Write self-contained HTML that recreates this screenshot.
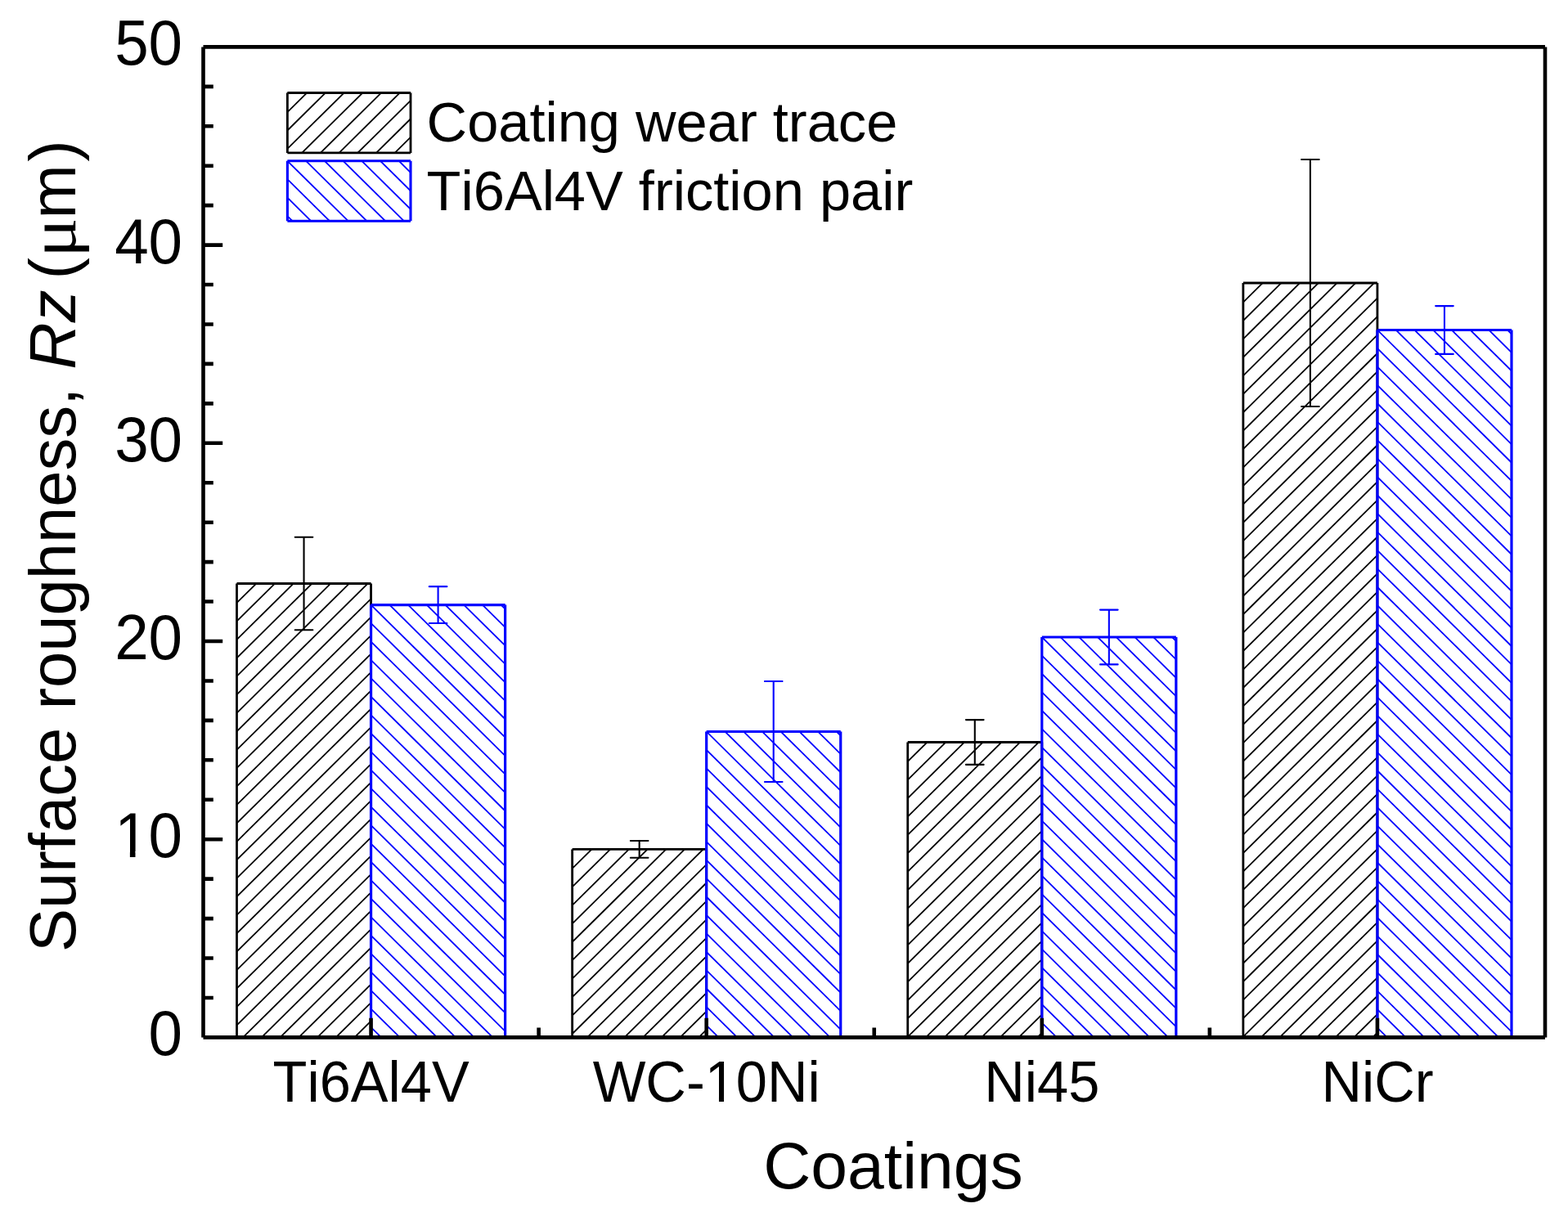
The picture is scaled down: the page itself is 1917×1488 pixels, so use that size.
<!DOCTYPE html><html><head><meta charset="utf-8"><style>html,body{margin:0;padding:0;background:#fff;overflow:hidden;}svg{display:block;font-kerning:none;}</style></head><body><svg width="1917" height="1488" viewBox="0 0 1917 1488">
<defs><clipPath id="c1"><rect x="289.51" y="713.50" width="164.05" height="554.90"/></clipPath><clipPath id="c2"><rect x="453.56" y="739.60" width="164.05" height="528.80"/></clipPath><clipPath id="c3"><rect x="699.64" y="1038.40" width="164.05" height="230.00"/></clipPath><clipPath id="c4"><rect x="863.69" y="894.50" width="164.05" height="373.90"/></clipPath><clipPath id="c5"><rect x="1109.76" y="907.50" width="164.05" height="360.90"/></clipPath><clipPath id="c6"><rect x="1273.81" y="779.00" width="164.05" height="489.40"/></clipPath><clipPath id="c7"><rect x="1519.89" y="346.00" width="164.05" height="922.40"/></clipPath><clipPath id="c8"><rect x="1683.94" y="403.50" width="164.05" height="864.90"/></clipPath><clipPath id="c9"><rect x="351.40" y="113.50" width="150.60" height="73.40"/></clipPath><clipPath id="c10"><rect x="351.40" y="196.80" width="150.60" height="73.40"/></clipPath></defs>
<rect width="100%" height="100%" fill="#fff"/>
<g clip-path="url(#c1)"><path d="M293.65,710.50L-274.00,1271.40M316.37,710.50L-251.28,1271.40M339.09,710.50L-228.56,1271.40M361.81,710.50L-205.84,1271.40M384.53,710.50L-183.12,1271.40M407.25,710.50L-160.40,1271.40M429.97,710.50L-137.68,1271.40M452.69,710.50L-114.96,1271.40M475.41,710.50L-92.24,1271.40M498.13,710.50L-69.52,1271.40M520.85,710.50L-46.80,1271.40M543.57,710.50L-24.08,1271.40M566.29,710.50L-1.36,1271.40M589.01,710.50L21.36,1271.40M611.73,710.50L44.08,1271.40M634.45,710.50L66.80,1271.40M657.17,710.50L89.52,1271.40M679.89,710.50L112.24,1271.40M702.61,710.50L134.96,1271.40M725.33,710.50L157.68,1271.40M748.05,710.50L180.40,1271.40M770.77,710.50L203.12,1271.40M793.49,710.50L225.84,1271.40M816.21,710.50L248.56,1271.40M838.93,710.50L271.28,1271.40M861.65,710.50L294.00,1271.40M884.37,710.50L316.72,1271.40M907.09,710.50L339.44,1271.40M929.81,710.50L362.16,1271.40M952.53,710.50L384.88,1271.40M975.25,710.50L407.60,1271.40M997.97,710.50L430.32,1271.40M1020.69,710.50L453.04,1271.40" stroke="#000" stroke-width="1.8" fill="none"/></g>
<path d="M289.51,713.50V1268.40M289.51,713.50H453.56M453.56,713.50V1268.40M289.51,1268.40H453.56" fill="none" stroke="#000" stroke-width="2.8"/>
<g clip-path="url(#c2)"><path d="M-117.47,736.60L423.76,1271.40M-94.75,736.60L446.48,1271.40M-72.03,736.60L469.20,1271.40M-49.31,736.60L491.92,1271.40M-26.59,736.60L514.64,1271.40M-3.87,736.60L537.36,1271.40M18.85,736.60L560.08,1271.40M41.57,736.60L582.80,1271.40M64.29,736.60L605.52,1271.40M87.01,736.60L628.24,1271.40M109.73,736.60L650.96,1271.40M132.45,736.60L673.68,1271.40M155.17,736.60L696.40,1271.40M177.89,736.60L719.12,1271.40M200.61,736.60L741.84,1271.40M223.33,736.60L764.56,1271.40M246.05,736.60L787.28,1271.40M268.77,736.60L810.00,1271.40M291.49,736.60L832.72,1271.40M314.21,736.60L855.44,1271.40M336.93,736.60L878.16,1271.40M359.65,736.60L900.88,1271.40M382.37,736.60L923.60,1271.40M405.09,736.60L946.32,1271.40M427.81,736.60L969.04,1271.40M450.53,736.60L991.76,1271.40M473.25,736.60L1014.48,1271.40M495.97,736.60L1037.20,1271.40M518.69,736.60L1059.92,1271.40M541.41,736.60L1082.64,1271.40M564.13,736.60L1105.36,1271.40M586.85,736.60L1128.08,1271.40M609.57,736.60L1150.80,1271.40M632.29,736.60L1173.52,1271.40" stroke="#00f" stroke-width="1.8" fill="none"/></g>
<path d="M453.56,739.60V1268.40M453.56,739.60H617.61M617.61,739.60V1268.40M453.56,1268.40H617.61" fill="none" stroke="#00f" stroke-width="3.2"/>
<g clip-path="url(#c3)"><path d="M703.77,1035.40L464.94,1271.40M726.49,1035.40L487.66,1271.40M749.21,1035.40L510.38,1271.40M771.93,1035.40L533.10,1271.40M794.65,1035.40L555.82,1271.40M817.37,1035.40L578.54,1271.40M840.09,1035.40L601.26,1271.40M862.81,1035.40L623.98,1271.40M885.53,1035.40L646.70,1271.40M908.25,1035.40L669.42,1271.40M930.97,1035.40L692.14,1271.40M953.69,1035.40L714.86,1271.40M976.41,1035.40L737.58,1271.40M999.13,1035.40L760.30,1271.40M1021.85,1035.40L783.02,1271.40M1044.57,1035.40L805.74,1271.40M1067.29,1035.40L828.46,1271.40M1090.01,1035.40L851.18,1271.40M1112.73,1035.40L873.90,1271.40" stroke="#000" stroke-width="1.8" fill="none"/></g>
<path d="M699.64,1038.40V1268.40M699.64,1038.40H863.69M863.69,1038.40V1268.40M699.64,1268.40H863.69" fill="none" stroke="#000" stroke-width="2.8"/>
<g clip-path="url(#c4)"><path d="M451.69,891.50L836.16,1271.40M474.41,891.50L858.88,1271.40M497.13,891.50L881.60,1271.40M519.85,891.50L904.32,1271.40M542.57,891.50L927.04,1271.40M565.29,891.50L949.76,1271.40M588.01,891.50L972.48,1271.40M610.73,891.50L995.20,1271.40M633.45,891.50L1017.92,1271.40M656.17,891.50L1040.64,1271.40M678.89,891.50L1063.36,1271.40M701.61,891.50L1086.08,1271.40M724.33,891.50L1108.80,1271.40M747.05,891.50L1131.52,1271.40M769.77,891.50L1154.24,1271.40M792.49,891.50L1176.96,1271.40M815.21,891.50L1199.68,1271.40M837.93,891.50L1222.40,1271.40M860.65,891.50L1245.12,1271.40M883.37,891.50L1267.84,1271.40M906.09,891.50L1290.56,1271.40M928.81,891.50L1313.28,1271.40M951.53,891.50L1336.00,1271.40M974.25,891.50L1358.72,1271.40M996.97,891.50L1381.44,1271.40M1019.69,891.50L1404.16,1271.40M1042.41,891.50L1426.88,1271.40" stroke="#00f" stroke-width="1.8" fill="none"/></g>
<path d="M863.69,894.50V1268.40M863.69,894.50H1027.74M1027.74,894.50V1268.40M863.69,1268.40H1027.74" fill="none" stroke="#00f" stroke-width="3.2"/>
<g clip-path="url(#c5)"><path d="M1113.90,904.50L742.59,1271.40M1136.62,904.50L765.31,1271.40M1159.34,904.50L788.03,1271.40M1182.06,904.50L810.75,1271.40M1204.78,904.50L833.47,1271.40M1227.50,904.50L856.19,1271.40M1250.22,904.50L878.91,1271.40M1272.94,904.50L901.63,1271.40M1295.66,904.50L924.35,1271.40M1318.38,904.50L947.07,1271.40M1341.10,904.50L969.79,1271.40M1363.82,904.50L992.51,1271.40M1386.54,904.50L1015.23,1271.40M1409.26,904.50L1037.95,1271.40M1431.98,904.50L1060.67,1271.40M1454.70,904.50L1083.39,1271.40M1477.42,904.50L1106.11,1271.40M1500.14,904.50L1128.83,1271.40M1522.86,904.50L1151.55,1271.40M1545.58,904.50L1174.27,1271.40M1568.30,904.50L1196.99,1271.40M1591.02,904.50L1219.71,1271.40M1613.74,904.50L1242.43,1271.40M1636.46,904.50L1265.15,1271.40M1659.18,904.50L1287.87,1271.40" stroke="#000" stroke-width="1.8" fill="none"/></g>
<path d="M1109.76,907.50V1268.40M1109.76,907.50H1273.81M1273.81,907.50V1268.40M1109.76,1268.40H1273.81" fill="none" stroke="#000" stroke-width="2.8"/>
<g clip-path="url(#c6)"><path d="M748.22,776.00L1249.57,1271.40M770.94,776.00L1272.29,1271.40M793.66,776.00L1295.01,1271.40M816.38,776.00L1317.73,1271.40M839.10,776.00L1340.45,1271.40M861.82,776.00L1363.17,1271.40M884.54,776.00L1385.89,1271.40M907.26,776.00L1408.61,1271.40M929.98,776.00L1431.33,1271.40M952.70,776.00L1454.05,1271.40M975.42,776.00L1476.77,1271.40M998.14,776.00L1499.49,1271.40M1020.86,776.00L1522.21,1271.40M1043.58,776.00L1544.93,1271.40M1066.30,776.00L1567.65,1271.40M1089.02,776.00L1590.37,1271.40M1111.74,776.00L1613.09,1271.40M1134.46,776.00L1635.81,1271.40M1157.18,776.00L1658.53,1271.40M1179.90,776.00L1681.25,1271.40M1202.62,776.00L1703.97,1271.40M1225.34,776.00L1726.69,1271.40M1248.06,776.00L1749.41,1271.40M1270.78,776.00L1772.13,1271.40M1293.50,776.00L1794.85,1271.40M1316.22,776.00L1817.57,1271.40M1338.94,776.00L1840.29,1271.40M1361.66,776.00L1863.01,1271.40M1384.38,776.00L1885.73,1271.40M1407.10,776.00L1908.45,1271.40M1429.82,776.00L1931.17,1271.40M1452.54,776.00L1953.89,1271.40" stroke="#00f" stroke-width="1.8" fill="none"/></g>
<path d="M1273.81,779.00V1268.40M1273.81,779.00H1437.86M1437.86,779.00V1268.40M1273.81,1268.40H1437.86" fill="none" stroke="#00f" stroke-width="3.2"/>
<g clip-path="url(#c7)"><path d="M1524.02,343.00L584.46,1271.40M1546.74,343.00L607.18,1271.40M1569.46,343.00L629.90,1271.40M1592.18,343.00L652.62,1271.40M1614.90,343.00L675.34,1271.40M1637.62,343.00L698.06,1271.40M1660.34,343.00L720.78,1271.40M1683.06,343.00L743.50,1271.40M1705.78,343.00L766.22,1271.40M1728.50,343.00L788.94,1271.40M1751.22,343.00L811.66,1271.40M1773.94,343.00L834.38,1271.40M1796.66,343.00L857.10,1271.40M1819.38,343.00L879.82,1271.40M1842.10,343.00L902.54,1271.40M1864.82,343.00L925.26,1271.40M1887.54,343.00L947.98,1271.40M1910.26,343.00L970.70,1271.40M1932.98,343.00L993.42,1271.40M1955.70,343.00L1016.14,1271.40M1978.42,343.00L1038.86,1271.40M2001.14,343.00L1061.58,1271.40M2023.86,343.00L1084.30,1271.40M2046.58,343.00L1107.02,1271.40M2069.30,343.00L1129.74,1271.40M2092.02,343.00L1152.46,1271.40M2114.74,343.00L1175.18,1271.40M2137.46,343.00L1197.90,1271.40M2160.18,343.00L1220.62,1271.40M2182.90,343.00L1243.34,1271.40M2205.62,343.00L1266.06,1271.40M2228.34,343.00L1288.78,1271.40M2251.06,343.00L1311.50,1271.40M2273.78,343.00L1334.22,1271.40M2296.50,343.00L1356.94,1271.40M2319.22,343.00L1379.66,1271.40M2341.94,343.00L1402.38,1271.40M2364.66,343.00L1425.10,1271.40M2387.38,343.00L1447.82,1271.40M2410.10,343.00L1470.54,1271.40M2432.82,343.00L1493.26,1271.40M2455.54,343.00L1515.98,1271.40M2478.26,343.00L1538.70,1271.40M2500.98,343.00L1561.42,1271.40M2523.70,343.00L1584.14,1271.40M2546.42,343.00L1606.86,1271.40M2569.14,343.00L1629.58,1271.40M2591.86,343.00L1652.30,1271.40M2614.58,343.00L1675.02,1271.40M2637.30,343.00L1697.74,1271.40" stroke="#000" stroke-width="1.8" fill="none"/></g>
<path d="M1519.89,346.00V1268.40M1519.89,346.00H1683.94M1683.94,346.00V1268.40M1519.89,1268.40H1683.94" fill="none" stroke="#000" stroke-width="2.8"/>
<g clip-path="url(#c8)"><path d="M772.10,400.50L1653.48,1271.40M794.82,400.50L1676.20,1271.40M817.54,400.50L1698.92,1271.40M840.26,400.50L1721.64,1271.40M862.98,400.50L1744.36,1271.40M885.70,400.50L1767.08,1271.40M908.42,400.50L1789.80,1271.40M931.14,400.50L1812.52,1271.40M953.86,400.50L1835.24,1271.40M976.58,400.50L1857.96,1271.40M999.30,400.50L1880.68,1271.40M1022.02,400.50L1903.40,1271.40M1044.74,400.50L1926.12,1271.40M1067.46,400.50L1948.84,1271.40M1090.18,400.50L1971.56,1271.40M1112.90,400.50L1994.28,1271.40M1135.62,400.50L2017.00,1271.40M1158.34,400.50L2039.72,1271.40M1181.06,400.50L2062.44,1271.40M1203.78,400.50L2085.16,1271.40M1226.50,400.50L2107.88,1271.40M1249.22,400.50L2130.60,1271.40M1271.94,400.50L2153.32,1271.40M1294.66,400.50L2176.04,1271.40M1317.38,400.50L2198.76,1271.40M1340.10,400.50L2221.48,1271.40M1362.82,400.50L2244.20,1271.40M1385.54,400.50L2266.92,1271.40M1408.26,400.50L2289.64,1271.40M1430.98,400.50L2312.36,1271.40M1453.70,400.50L2335.08,1271.40M1476.42,400.50L2357.80,1271.40M1499.14,400.50L2380.52,1271.40M1521.86,400.50L2403.24,1271.40M1544.58,400.50L2425.96,1271.40M1567.30,400.50L2448.68,1271.40M1590.02,400.50L2471.40,1271.40M1612.74,400.50L2494.12,1271.40M1635.46,400.50L2516.84,1271.40M1658.18,400.50L2539.56,1271.40M1680.90,400.50L2562.28,1271.40M1703.62,400.50L2585.00,1271.40M1726.34,400.50L2607.72,1271.40M1749.06,400.50L2630.44,1271.40M1771.78,400.50L2653.16,1271.40M1794.50,400.50L2675.88,1271.40M1817.22,400.50L2698.60,1271.40M1839.94,400.50L2721.32,1271.40M1862.66,400.50L2744.04,1271.40" stroke="#00f" stroke-width="1.8" fill="none"/></g>
<path d="M1683.94,403.50V1268.40M1683.94,403.50H1847.99M1847.99,403.50V1268.40M1683.94,1268.40H1847.99" fill="none" stroke="#00f" stroke-width="3.2"/>
<path d="M371.54,656.75V770.25M360.74,656.75H382.34M360.74,770.25H382.34" stroke="#000" stroke-width="2.1" stroke-linecap="round" fill="none"/>
<path d="M535.59,717.15V762.05M524.79,717.15H546.39M524.79,762.05H546.39" stroke="#00f" stroke-width="2.1" stroke-linecap="round" fill="none"/>
<path d="M781.66,1028.00V1048.80M770.86,1028.00H792.46M770.86,1048.80H792.46" stroke="#000" stroke-width="2.1" stroke-linecap="round" fill="none"/>
<path d="M945.71,833.05V955.95M934.91,833.05H956.51M934.91,955.95H956.51" stroke="#00f" stroke-width="2.1" stroke-linecap="round" fill="none"/>
<path d="M1191.79,880.10V934.90M1180.99,880.10H1202.59M1180.99,934.90H1202.59" stroke="#000" stroke-width="2.1" stroke-linecap="round" fill="none"/>
<path d="M1355.84,745.60V812.40M1345.04,745.60H1366.64M1345.04,812.40H1366.64" stroke="#00f" stroke-width="2.1" stroke-linecap="round" fill="none"/>
<path d="M1601.91,195.05V496.95M1591.11,195.05H1612.71M1591.11,496.95H1612.71" stroke="#000" stroke-width="2.1" stroke-linecap="round" fill="none"/>
<path d="M1765.96,374.10V432.90M1755.16,374.10H1776.76M1755.16,432.90H1776.76" stroke="#00f" stroke-width="2.1" stroke-linecap="round" fill="none"/>
<path d="M248.5,57.4H1889.0M248.5,1268.4H1889.0M248.5,57.4V1268.4M1889.0,57.4V1268.4M248.5,1219.96h12.3M248.5,1171.52h12.3M248.5,1123.08h12.3M248.5,1074.64h12.3M248.5,1026.20h23.7M248.5,977.76h12.3M248.5,929.32h12.3M248.5,880.88h12.3M248.5,832.44h12.3M248.5,784.00h23.7M248.5,735.56h12.3M248.5,687.12h12.3M248.5,638.68h12.3M248.5,590.24h12.3M248.5,541.80h23.7M248.5,493.36h12.3M248.5,444.92h12.3M248.5,396.48h12.3M248.5,348.04h12.3M248.5,299.60h23.7M248.5,251.16h12.3M248.5,202.72h12.3M248.5,154.28h12.3M248.5,105.84h12.3M658.62,1268.4V1256.60M1068.75,1268.4V1256.60M1478.88,1268.4V1256.60M453.56,1268.4V1244.70M863.69,1268.4V1244.70M1273.81,1268.4V1244.70M1683.94,1268.4V1244.70" stroke="#000" stroke-width="4.6" fill="none"/>
<g clip-path="url(#c9)"><path d="M355.54,110.50L275.18,189.90M378.26,110.50L297.90,189.90M400.98,110.50L320.62,189.90M423.70,110.50L343.34,189.90M446.42,110.50L366.06,189.90M469.14,110.50L388.78,189.90M491.86,110.50L411.50,189.90M514.58,110.50L434.22,189.90M537.30,110.50L456.94,189.90M560.02,110.50L479.66,189.90M582.74,110.50L502.38,189.90" stroke="#000" stroke-width="1.8" fill="none"/></g>
<path d="M351.40,113.50V186.90M351.40,113.50H502.00M502.00,113.50V186.90M351.40,186.90H502.00" fill="none" stroke="#000" stroke-width="2.8"/>
<g clip-path="url(#c10)"><path d="M234.76,193.80L315.12,273.20M257.48,193.80L337.84,273.20M280.20,193.80L360.56,273.20M302.92,193.80L383.28,273.20M325.64,193.80L406.00,273.20M348.36,193.80L428.72,273.20M371.08,193.80L451.44,273.20M393.80,193.80L474.16,273.20M416.52,193.80L496.88,273.20M439.24,193.80L519.60,273.20M461.96,193.80L542.32,273.20M484.68,193.80L565.04,273.20M507.40,193.80L587.76,273.20" stroke="#00f" stroke-width="1.8" fill="none"/></g>
<path d="M351.40,196.80V270.20M351.40,196.80H502.00M502.00,196.80V270.20M351.40,270.20H502.00" fill="none" stroke="#00f" stroke-width="3.1"/>
<text transform="translate(223.1,1290.30) scale(1,1.035)" font-family="Liberation Sans, Arial, sans-serif" font-size="74.6" text-anchor="end">0</text>
<text transform="translate(223.1,1048.10) scale(1,1.035)" font-family="Liberation Sans, Arial, sans-serif" font-size="74.6" text-anchor="end">10</text>
<text transform="translate(223.1,805.90) scale(1,1.035)" font-family="Liberation Sans, Arial, sans-serif" font-size="74.6" text-anchor="end">20</text>
<text transform="translate(223.1,563.70) scale(1,1.035)" font-family="Liberation Sans, Arial, sans-serif" font-size="74.6" text-anchor="end">30</text>
<text transform="translate(223.1,321.50) scale(1,1.035)" font-family="Liberation Sans, Arial, sans-serif" font-size="74.6" text-anchor="end">40</text>
<text transform="translate(223.1,79.30) scale(1,1.035)" font-family="Liberation Sans, Arial, sans-serif" font-size="74.6" text-anchor="end">50</text>
<text transform="translate(453.56,1347.0) scale(1,1.02)" font-family="Liberation Sans, Arial, sans-serif" font-size="68.6" text-anchor="middle">Ti6Al4V</text>
<text transform="translate(863.69,1347.0) scale(1,1.02)" font-family="Liberation Sans, Arial, sans-serif" font-size="68.6" text-anchor="middle">WC-10Ni</text>
<text transform="translate(1273.81,1347.0) scale(1,1.02)" font-family="Liberation Sans, Arial, sans-serif" font-size="68.6" text-anchor="middle">Ni45</text>
<text transform="translate(1683.94,1347.0) scale(1,1.02)" font-family="Liberation Sans, Arial, sans-serif" font-size="68.6" text-anchor="middle">NiCr</text>
<text x="1092" y="1453.4" font-family="Liberation Sans, Arial, sans-serif" font-size="80.5" text-anchor="middle">Coatings</text>
<text x="521.6" y="173.1" font-family="Liberation Sans, Arial, sans-serif" font-size="68.6">Coating wear trace</text>
<text x="521.6" y="256.7" font-family="Liberation Sans, Arial, sans-serif" font-size="68.6">Ti6Al4V friction pair</text>
<g transform="translate(92,1164) rotate(-90)" font-family="Liberation Sans, Arial, sans-serif" font-size="79.6"><text x="0" y="0">Surface roughness, <tspan font-style="italic">Rz</tspan></text><text x="822.4" y="0">(</text><text transform="translate(849.1,0) scale(1.144,1)" x="0" y="0" font-family="Liberation Serif, serif">μ</text><text x="896.4" y="0">m</text><text x="966.2" y="0">)</text></g>
<rect x="144.60" y="1041.03" width="14.28" height="8.27" fill="#fff"/>
<rect x="165.47" y="1041.03" width="13.69" height="8.27" fill="#fff"/>
<rect x="865.74" y="1340.47" width="13.23" height="7.73" fill="#fff"/>
<rect x="885.02" y="1340.47" width="12.69" height="7.73" fill="#fff"/>
</svg></body></html>
